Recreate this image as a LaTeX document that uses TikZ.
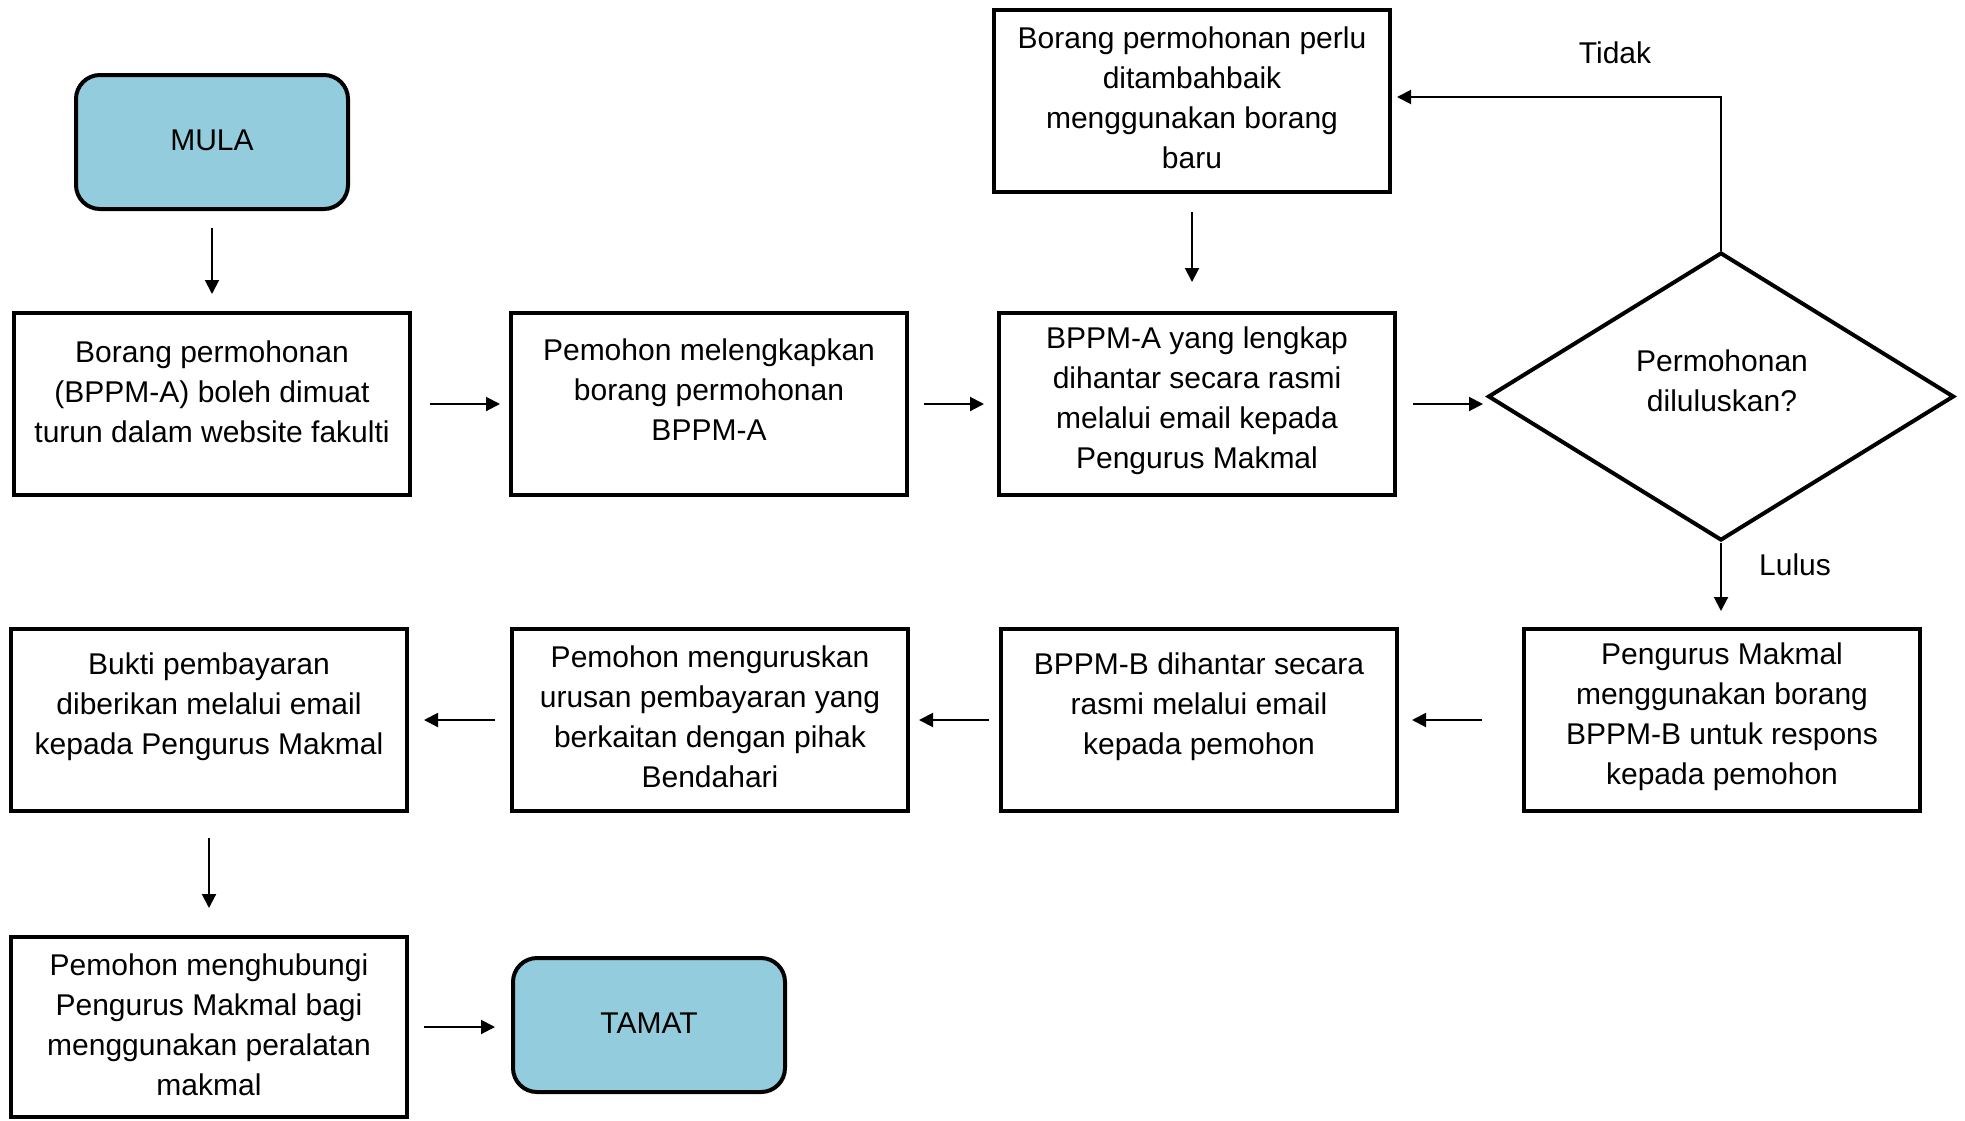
\documentclass[tikz,border=0pt]{standalone}
\usepackage{fontspec}
\setmainfont{Liberation Sans}
\usetikzlibrary{shapes.geometric,arrows.meta}
\definecolor{termblue}{HTML}{93CDDD}
\begin{document}
\begin{tikzpicture}[x=0.5pt,y=-0.5pt,
  box/.style={draw,line width=2pt,minimum width=198pt,minimum height=91pt,inner sep=0pt},
  term/.style={draw,line width=2pt,fill=termblue,rounded corners=12pt,minimum width=136pt,minimum height=67pt,inner sep=0pt},
  dec/.style={draw,line width=2pt,diamond,minimum width=233pt,minimum height=144pt,inner sep=0pt},
  txt/.style={align=center,font=\fontsize{15pt}{20pt}\selectfont,inner sep=0pt},
  arr/.style={-{Triangle[length=7pt,width=7pt]},line width=1pt},
]
\useasboundingbox (0,0) rectangle (1965,1120);

% shapes
\node[term] (mula) at (212,142) {};
\node[box] (b1) at (212,404) {};
\node[box] (b2) at (709,404) {};
\node[box] (b3) at (1197,404) {};
\node[box] (btop) at (1192,101) {};
\node[dec] (d) at (1721,396.5) {};
\node[box] (pm) at (1722,720) {};
\node[box] (bb) at (1199,720) {};
\node[box] (pu) at (710,720) {};
\node[box] (bk) at (209,720) {};
\node[box,minimum height=90pt] (ph) at (209,1027) {};
\node[term] (tamat) at (649,1025) {};

% texts
\node[txt] (tmula) at (212,140) {MULA};
\node[txt] (t1) at (212,392) {Borang permohonan\\(BPPM-A) boleh dimuat\\turun dalam website fakulti};
\node[txt] (t2) at (709,390) {Pemohon melengkapkan\\borang permohonan\\BPPM-A};
\node[txt] (t3) at (1197,401) {BPPM-A yang lengkap\\dihantar secara rasmi\\melalui email kepada\\Pengurus Makmal};
\node[txt] (ttop) at (1192,98) {Borang permohonan perlu\\ditambahbaik\\menggunakan borang\\baru};
\node[txt] (td) at (1722,381) {Permohonan\\diluluskan?};
\node[txt] (tpm) at (1722,717) {Pengurus Makmal\\menggunakan borang\\BPPM-B untuk respons\\kepada pemohon};
\node[txt] (tbb) at (1199,707) {BPPM-B dihantar secara\\rasmi melalui email\\kepada pemohon};
\node[txt] (tpu) at (710,717) {Pemohon menguruskan\\urusan pembayaran yang\\berkaitan dengan pihak\\Bendahari};
\node[txt] (tbk) at (209,707) {Bukti pembayaran\\diberikan melalui email\\kepada Pengurus Makmal};
\node[txt] (tph) at (209,1025) {Pemohon menghubungi\\Pengurus Makmal bagi\\menggunakan peralatan\\makmal};
\node[txt] (ttamat) at (649,1023) {TAMAT};
\node[txt] (tidak) at (1615,53) {Tidak};
\node[txt] (lulus) at (1795,565) {Lulus};

% connectors
\draw[arr,shorten <=8.5pt,shorten >=8.5pt] (mula.south) -- (b1.north);
\draw[arr,shorten <=9pt,shorten >=4.5pt] (b1.east) -- (b2.west);
\draw[arr,shorten <=7.5pt,shorten >=6.5pt] (b2.east) -- (b3.west);
\draw[arr,shorten <=8pt,shorten >=1.5pt] (b3.east) -- (b3.east -| d.west);
\draw[arr,shorten >=2.5pt] (d.north) |- ([yshift=2pt]btop.east);
\draw[arr,shorten <=9pt,shorten >=14.5pt] (btop.south) -- (btop.south |- b3.north);
\draw[arr,shorten >=8pt] (d.south) -- (d.south |- pm.north);
\draw[arr,shorten <=20pt,shorten >=6.5pt] (pm.west) -- (bb.east);
\draw[arr,shorten <=5pt,shorten >=4.5pt] (bb.west) -- (pu.east);
\draw[arr,shorten <=7.5pt,shorten >=7.5pt] (pu.west) -- (bk.east);
\draw[arr,shorten <=12.5pt,shorten >=13.5pt] (bk.south) -- (ph.north);
\draw[arr,shorten <=7.5pt,shorten >=8pt] (ph.east) -- (ph.east -| tamat.west);
\end{tikzpicture}
\end{document}
